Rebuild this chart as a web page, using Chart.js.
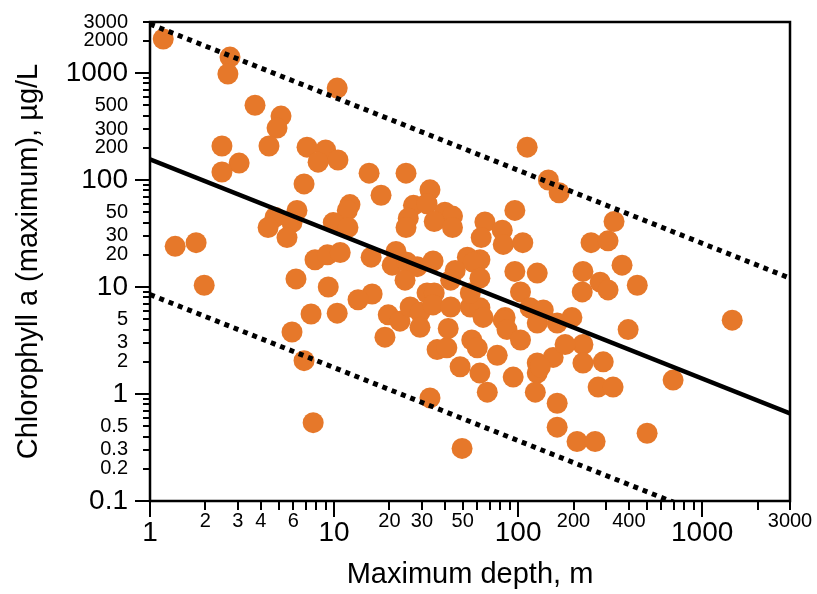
<!DOCTYPE html>
<html>
<head>
<meta charset="utf-8">
<script src="https://cdn.jsdelivr.net/npm/chart.js@4"></script>
<style>
  body { margin: 0; background: white; }
  #wrap { width: 817px; height: 594px; }
</style>
</head>
<body>
<div id="wrap"><canvas id="myChart"></canvas></div>
<script>
// DATA
// ================================================================
var depth = [1.18, 2.72, 2.65, 3.72, 5.15, 4.9, 2.46, 4.43, 3.05, 2.46,
	7.13, 9.0, 8.19, 10.5, 6.87, 10.4, 15.5, 24.6, 112, 146,
	167, 332, 249, 308, 1.37, 1.78, 1.97, 6.29, 4.78, 4.38,
	5.91, 5.55, 7.88, 6.21, 7.5, 5.91, 6.87, 7.7, 18, 33.2,
	27, 32, 25.3, 24.6, 12.2, 11.8, 9.9, 11.9, 40, 44,
	35, 44, 66, 82, 63, 83, 106, 96, 9.2, 10.8,
	21.7, 15.9, 20.7, 24.9, 28.3, 34.5, 24.3, 9.3, 16.1, 13.5,
	10.4, 19.7, 22.8, 25.9, 32, 29.3, 29.3, 18.9, 36.3, 41,
	41.7, 48.4, 33.2, 49.6, 56, 60, 55, 62, 64.5, 53,
	62, 57, 62, 45.5, 43, 55, 35, 34.5, 43, 85,
	77, 62, 68, 83, 87, 103, 94, 96, 127, 103,
	116, 137, 127, 163, 196, 127, 127, 124, 155, 163,
	163, 367, 225, 279, 223, 308, 444, 396, 1456, 225,
	180, 225, 290, 132, 695, 272, 328, 209, 262, 502];

var chlorophyll = [2080, 1410, 980, 500, 396, 306, 208, 208, 144, 119,
	203, 191, 147, 154, 92, 724, 116, 116, 203, 100,
	76, 41, 26, 27, 24, 26, 10.4, 52, 45, 36,
	40, 29, 18, 11.9, 5.6, 3.8, 2.05, 0.54, 72, 81,
	58, 60, 44, 36, 59, 52, 40, 36, 50, 46,
	41, 36, 40.5, 34, 29, 25, 26, 52, 20, 21,
	21.5, 19, 16, 17, 15.5, 17.5, 11.6, 10, 8.6, 7.6,
	5.7, 5.5, 4.8, 6.5, 8.8, 5.8, 4.2, 3.4, 2.6, 2.7,
	4.1, 1.8, 0.92, 0.31, 3.2, 2.7, 6.5, 6.4, 5.2, 19,
	18, 17, 12.1, 14.3, 11.6, 8.8, 8.8, 6.8, 6.5, 5.2,
	2.3, 1.57, 1.04, 4.9, 4.0, 3.2, 1.44, 14, 13.5, 9.0,
	6.4, 6.1, 4.6, 4.6, 5.2, 1.95, 1.57, 1.04, 2.2, 0.82,
	0.49, 16, 14, 11.1, 9.0, 9.4, 10.4, 4.0, 4.9, 2.9,
	2.9, 1.95, 2.0, 1.8, 1.35, 1.16, 1.16, 0.36, 0.36, 0.43];

// regression line and bounds (end points)
var fitX = [1, 3000];
var fitY = [156, 0.66];
var upperY = [2870, 12.1];
var lowerY = [8.5, 0.036];

// ticks
var xTickMarks = [1, 2, 3, 4, 5, 6, 7, 8, 9, 10, 20, 30, 40, 50, 60, 70, 80, 90,
	100, 200, 300, 400, 500, 600, 700, 800, 900, 1000, 2000, 3000];
var xMajor = [1, 10, 100, 1000];
var xLabels = [1, 2, 3, 4, 6, 10, 20, 30, 50, 100, 200, 400, 1000, 3000];

var yTickMarks = [0.1, 0.2, 0.3, 0.4, 0.5, 0.6, 0.7, 0.8, 0.9, 1, 2, 3, 4, 5, 6, 7, 8, 9,
	10, 20, 30, 40, 50, 60, 70, 80, 90, 100, 200, 300, 400, 500, 600, 700, 800, 900,
	1000, 2000, 3000];
var yMajor = [0.1, 1, 10, 100, 1000];
var yLabels = [0.1, 0.2, 0.3, 0.5, 1, 2, 3, 5, 10, 20, 30, 50, 100, 200, 300, 500, 1000, 2000, 3000];

var FONT = 'Liberation Sans';
var ORANGE = '#E6782A';


// Plugins
// ================================================================
var frameAndTicks = {
	id: 'frameAndTicks',
	afterDraw: function (chart) {
		var ctx = chart.ctx, a = chart.chartArea;
		var x = chart.scales.x, y = chart.scales.y;
		ctx.save();
		ctx.strokeStyle = 'black';
		ctx.lineWidth = 2.5;
		ctx.strokeRect(a.left, a.top, a.right - a.left, a.bottom - a.top);
		ctx.lineWidth = 2;
		xTickMarks.forEach(function (v) {
			var px = Math.round(x.getPixelForValue(v));
			var len = xMajor.includes(v) ? 16 : 9;
			ctx.beginPath();
			ctx.moveTo(px, a.bottom);
			ctx.lineTo(px, a.bottom + len);
			ctx.stroke();
		});
		yTickMarks.forEach(function (v) {
			var py = Math.round(y.getPixelForValue(v));
			var len = yMajor.includes(v) ? 15 : 7;
			ctx.beginPath();
			ctx.moveTo(a.left, py);
			ctx.lineTo(a.left - len, py);
			ctx.stroke();
		});
		ctx.restore();
	}
};


// OPTIONS
// ================================================================
function pts(xs, ys) {
	return xs.map(function (v, i) { return { x: v, y: ys[i] }; });
}

function noEdgePadding(scale) {
	scale.paddingTop = 0;
	scale.paddingBottom = 0;
	scale.paddingLeft = 0;
	scale.paddingRight = 0;
}

var data = {
	datasets: [
		{
			type: 'line', data: pts(fitX, fitY), borderColor: 'black', borderWidth: 4.5,
			pointRadius: 0, order: 0
		},
		{
			type: 'line', data: pts(fitX, upperY), borderColor: 'black', borderWidth: 5,
			borderDash: [5, 5], borderCapStyle: 'butt', pointRadius: 0, order: 0
		},
		{
			type: 'line', data: pts(fitX, lowerY), borderColor: 'black', borderWidth: 5,
			borderDash: [5, 5], borderCapStyle: 'butt', pointRadius: 0, order: 0
		},
		{
			type: 'scatter', data: pts(depth, chlorophyll), backgroundColor: ORANGE,
			borderWidth: 0, pointRadius: 10.5, order: 2
		}
	]
};

var options = {
	responsive: true,
	maintainAspectRatio: false,
	animation: false,
	layout: { padding: { top: 22, right: 27, left: 0, bottom: 0 } },
	plugins: { legend: { display: false }, tooltip: { enabled: false } },

	scales: {
		x: {
			type: 'logarithmic',
			min: 1,
			max: 3000,
			afterBuildTicks: function (scale) {
				scale.ticks = xLabels.map(function (v) { return { value: v }; });
			},
			afterFit: function (scale) { scale.height = 93; noEdgePadding(scale); },
			grid: { display: false, drawTicks: false },
			border: { display: false },
			ticks: {
				autoSkip: false,
				maxRotation: 0,
				padding: 8,
				color: 'black',
				callback: function (value) { return String(value); },
				font: function (c) {
					var v = c.tick ? c.tick.value : 0;
					return xMajor.includes(v)
						? { family: FONT, size: 28, lineHeight: 1.7 }
						: { family: FONT, size: 20, lineHeight: 1.2 };
				}
			},
			title: {
				display: true,
				text: 'Maximum depth, m',
				color: 'black',
				font: { family: FONT, size: 29 },
				padding: { bottom: 2, top: 0 }
			}
		},
		y: {
			type: 'logarithmic',
			min: 0.1,
			max: 3000,
			afterBuildTicks: function (scale) {
				scale.ticks = yLabels.map(function (v) { return { value: v }; });
			},
			afterFit: function (scale) { scale.width = 150; noEdgePadding(scale); },
			grid: { display: false, drawTicks: false },
			border: { display: false },
			ticks: {
				autoSkip: false,
				padding: 22,
				color: 'black',
				callback: function (value) { return String(value); },
				font: function (c) {
					var v = c.tick ? c.tick.value : 0;
					return yMajor.includes(v)
						? { family: FONT, size: 28 }
						: { family: FONT, size: 20 };
				}
			},
			title: {
				display: true,
				text: 'Chlorophyll a (maximum), µg/L',
				color: 'black',
				font: { family: FONT, size: 29 },
				padding: { top: 12, bottom: 0 }
			}
		}
	}
};


// Create the chart
var ctx = document.getElementById('myChart').getContext('2d');
var Render = new Chart(ctx, {
	type: 'scatter',
	data: data,
	options: options,
	plugins: [frameAndTicks]
});
</script>
</body>
</html>
